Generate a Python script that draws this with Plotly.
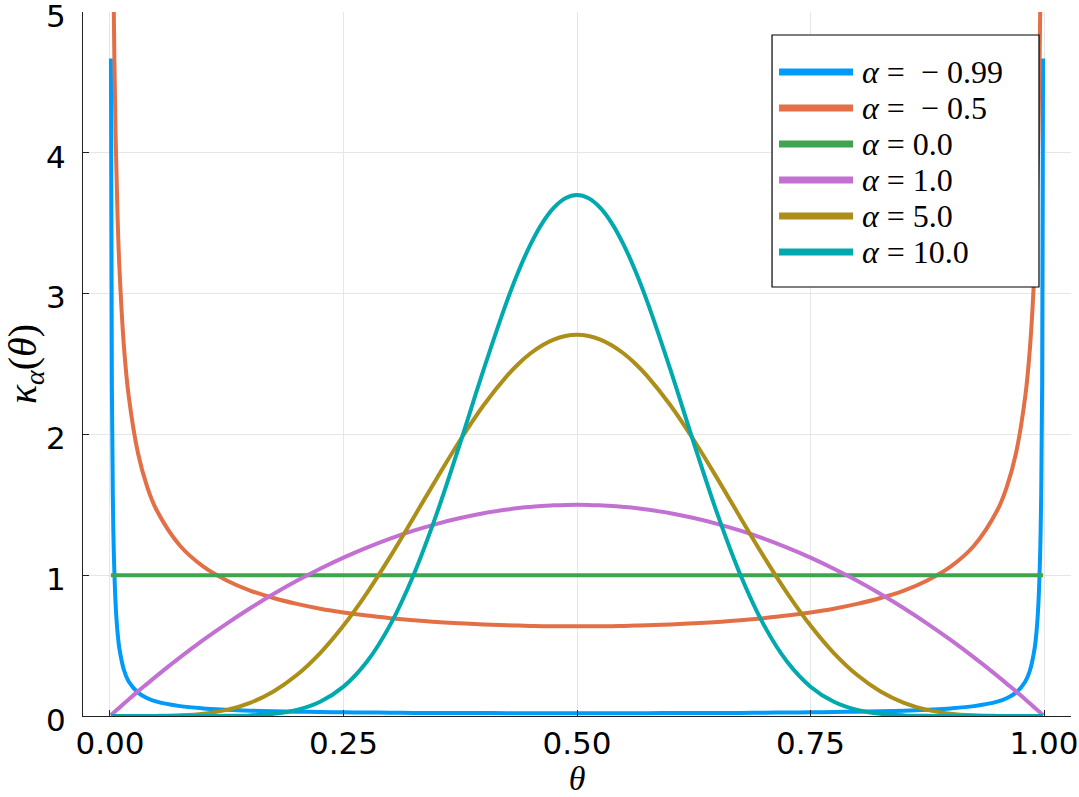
import plotly.graph_objects as go

# valeurs (bord gauche, milieu gauche, centre, milieu droit, bord droit)
theta = [0.001, 0.002, 0.003, 0.004, 0.006, 0.008, 0.01, 0.015, 0.02, 0.03, 0.04,
         0.05, 0.075, 0.1, 0.125, 0.15, 0.175, 0.2, 0.225, 0.25, 0.275, 0.3, 0.325, 0.35, 0.375,
         0.4, 0.425, 0.4375, 0.45, 0.4625, 0.475, 0.4875, 0.5, 0.5125, 0.525, 0.5375, 0.55, 0.5625, 0.575, 0.6,
         0.625, 0.65, 0.675, 0.7, 0.725, 0.75, 0.775, 0.8, 0.825, 0.85, 0.875, 0.9, 0.925, 0.95,
         0.96, 0.97, 0.98, 0.985, 0.99, 0.992, 0.994, 0.996, 0.997, 0.998, 0.999]

k_m099 = [4.669, 2.354, 1.578, 1.188, 0.797, 0.600, 0.482, 0.325, 0.245, 0.166, 0.126,
          0.102, 0.070, 0.054, 0.045, 0.038, 0.034, 0.031, 0.028, 0.026, 0.025, 0.023, 0.022, 0.022, 0.021,
          0.021, 0.020, 0.020, 0.020, 0.020, 0.020, 0.020, 0.020, 0.020, 0.020, 0.020, 0.020, 0.020, 0.020, 0.021,
          0.021, 0.022, 0.022, 0.023, 0.025, 0.026, 0.028, 0.031, 0.034, 0.038, 0.045, 0.054, 0.070, 0.102,
          0.126, 0.166, 0.245, 0.325, 0.482, 0.600, 0.797, 1.188, 1.578, 2.354, 4.669]

k_m05 = [10.07, 7.125, 5.820, 5.043, 4.122, 3.573, 3.199, 2.619, 2.274, 1.866, 1.624,
         1.461, 1.209, 1.061, 0.963, 0.891, 0.838, 0.796, 0.762, 0.735, 0.713, 0.695, 0.680, 0.667, 0.658,
         0.650, 0.644, 0.642, 0.640, 0.638, 0.637, 0.637, 0.637, 0.637, 0.637, 0.638, 0.640, 0.642, 0.644, 0.650,
         0.658, 0.667, 0.680, 0.695, 0.713, 0.735, 0.762, 0.796, 0.838, 0.891, 0.963, 1.061, 1.209, 1.461,
         1.624, 1.866, 2.274, 2.619, 3.199, 3.573, 4.122, 5.043, 5.820, 7.125, 10.07]

k_0 = [1.0] * 65

k_1 = [0.006, 0.012, 0.018, 0.024, 0.036, 0.048, 0.059, 0.089, 0.118, 0.175, 0.230,
       0.285, 0.416, 0.540, 0.656, 0.765, 0.866, 0.960, 1.046, 1.125, 1.196, 1.260, 1.316, 1.365, 1.406,
       1.440, 1.466, 1.477, 1.485, 1.492, 1.496, 1.499, 1.500, 1.499, 1.496, 1.492, 1.485, 1.477, 1.466, 1.440,
       1.406, 1.365, 1.316, 1.260, 1.196, 1.125, 1.046, 0.960, 0.866, 0.765, 0.656, 0.540, 0.416, 0.285,
       0.230, 0.175, 0.118, 0.089, 0.059, 0.048, 0.036, 0.024, 0.018, 0.012, 0.006]

k_5 = [0.0, 0.0, 0.0, 0.0, 0.0, 0.0, 0.0, 0.0, 0.0, 0.0001, 0.0002,
       0.0007, 0.0045, 0.0164, 0.0434, 0.0934, 0.1739, 0.2907, 0.4469, 0.6424, 0.8733, 1.1321, 1.4084, 1.6893, 1.9604,
       2.2072, 2.4159, 2.5021, 2.5744, 2.6317, 2.6734, 2.6986, 2.7070, 2.6986, 2.6734, 2.6317, 2.5744, 2.5021, 2.4159, 2.2072,
       1.9604, 1.6893, 1.4084, 1.1321, 0.8733, 0.6424, 0.4469, 0.2907, 0.1739, 0.0934, 0.0434, 0.0164, 0.0045, 0.0007,
       0.0002, 0.0001, 0.0, 0.0, 0.0, 0.0, 0.0, 0.0, 0.0, 0.0, 0.0]

k_10 = [0.0, 0.0, 0.0, 0.0, 0.0, 0.0, 0.0, 0.0, 0.0, 0.0, 0.0,
        0.0, 0.0, 0.0001, 0.0010, 0.0044, 0.0153, 0.0427, 0.1009, 0.2084, 0.3850, 0.6472, 1.0016, 1.4409, 1.9406,
        2.4600, 2.9470, 3.1610, 3.3463, 3.4972, 3.6087, 3.6771, 3.7001, 3.6771, 3.6087, 3.4972, 3.3463, 3.1610, 2.9470, 2.4600,
        1.9406, 1.4409, 1.0016, 0.6472, 0.3850, 0.2084, 0.1009, 0.0427, 0.0153, 0.0044, 0.0010, 0.0001, 0.0, 0.0,
        0.0, 0.0, 0.0, 0.0, 0.0, 0.0, 0.0, 0.0, 0.0, 0.0, 0.0]

noms = ['<i>α</i> = &nbsp;− 0.99', '<i>α</i> = &nbsp;− 0.5', '<i>α</i> = 0.0',
        '<i>α</i> = 1.0', '<i>α</i> = 5.0', '<i>α</i> = 10.0']
series = [k_m099, k_m05, k_0, k_1, k_5, k_10]
couleurs = ['#009AFA', '#E36F47', '#3EA44E', '#C271D2', '#AC8E18', '#00A9AD']

fig = go.Figure()
for y, nom, c in zip(series, noms, couleurs):
    fig.add_trace(go.Scatter(x=theta, y=y, name=nom, mode='lines',
                             line=dict(color=c, width=4, shape='spline', smoothing=1.0),
                             showlegend=False))

axe = dict(showline=True, linecolor='#222', linewidth=1, mirror=False,
           showgrid=True, gridcolor='#e6e6e6', gridwidth=1, zeroline=False,
           ticks='inside', ticklen=6, tickcolor='#222', ticklabeloverflow='allow',
           automargin=False,
           tickfont=dict(family='DejaVu Sans', size=31, color='black'))

fig.update_layout(
    width=1079, height=797,
    margin=dict(l=83, r=8, t=12, b=81),
    paper_bgcolor='white', plot_bgcolor='white',
    xaxis=dict(axe, range=[-0.0289, 1.0289], tickvals=[0, 0.25, 0.5, 0.75, 1],
               ticktext=['0.00', '0.25', '0.50', '0.75', '1.00'],
               title=dict(text='<i>θ</i>', standoff=8,
                          font=dict(family='Liberation Serif', size=34, color='black'))),
    yaxis=dict(axe, range=[0, 5], tickvals=[0, 1, 2, 3, 4, 5], ticklabelstandoff=10,
               ticklabelshift=4,
               title=dict(text='<i>κ</i><sub><i>α</i></sub>(<i>θ</i>)', standoff=20,
                          font=dict(family='Liberation Serif', size=40, color='black'))),
)

# légende dessinée à la main (traits plus longs que la légende plotly)
lx0, lx1, ly0, ly1 = 0.6974, 0.9676, 0.6094, 0.9673
shapes = [dict(type='rect', xref='paper', yref='paper', x0=lx0, x1=lx1, y0=ly0, y1=ly1,
               line=dict(color='black', width=1.2), fillcolor='white', layer='above')]
annotations = []
rangs = [0.9148, 0.8636, 0.8125, 0.7614, 0.7102, 0.6591]
for yr, nom, c in zip(rangs, noms, couleurs):
    shapes.append(dict(type='line', xref='paper', yref='paper', x0=0.7045, x1=0.7794,
                       y0=yr, y1=yr, line=dict(color=c, width=7), layer='above'))
    annotations.append(dict(xref='paper', yref='paper', x=0.7864, y=yr, xanchor='left',
                            yanchor='middle', text=nom, showarrow=False,
                            font=dict(family='Liberation Serif', size=32, color='black')))

fig.update_layout(shapes=shapes, annotations=annotations)

# marge du body à zéro pour caler la figure sur la fenêtre
fig.write_html('out.html', config={'displayModeBar': False},
               post_script="document.body.style.margin='0px';")
